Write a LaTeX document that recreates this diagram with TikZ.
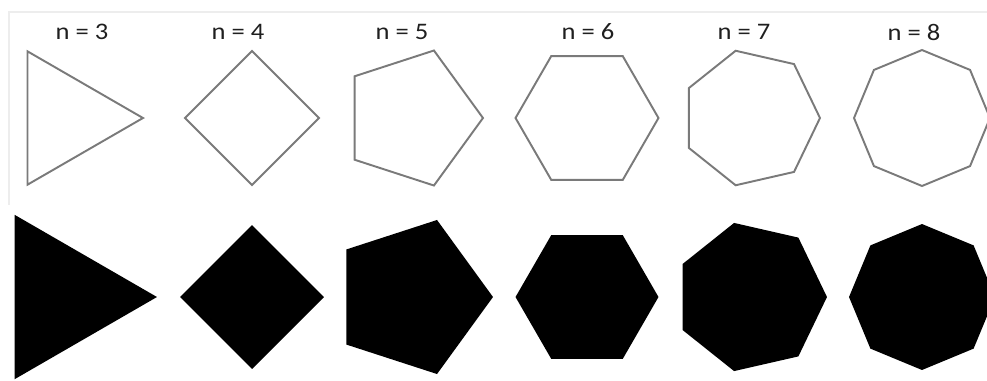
\documentclass[tikz,border=0pt]{standalone}
\usepackage{fontspec}
\setmainfont{Carlito}
\usetikzlibrary{shapes.geometric}

\begin{document}
\begin{tikzpicture}[
        x = 0.02cm, y = -0.02cm,
        poly/.style = {regular polygon, inner sep = 0pt, outer sep = 0pt},
        outline/.style = {poly, draw = black!52, line width = 1.1pt, fill = white},
        solid/.style = {poly, fill = black},
        lbl/.style = {font = \fontsize{13.5}{15}\selectfont, text = black!88, inner sep = 0pt}
    ]
      \useasboundingbox (0,0) rectangle (987,380);
      \clip (0,0) rectangle (987,380);
      \draw[black!7, line width = 0.8pt] (9,205) -- (9,12) -- (987,12);

      % labels
      \node[lbl] (l3) at (82,32) {\scalebox{1.12}[1]{n = 3}};
      \node[lbl] (l4) at (238,32) {\scalebox{1.12}[1]{n = 4}};
      \node[lbl] (l5) at (402,32) {\scalebox{1.12}[1]{n = 5}};
      \node[lbl] (l6) at (588,32) {\scalebox{1.12}[1]{n = 6}};
      \node[lbl] (l7) at (744,32) {\scalebox{1.12}[1]{n = 7}};
      \node[lbl] (l8) at (914,32) {\scalebox{1.12}[1]{n = 8}};

      % outlined row
      \node[outline, regular polygon sides = 3, shape border rotate = -90, minimum size = 3.08cm] (o3) at (66,118) {};
      \node[outline, regular polygon sides = 4, shape border rotate = 45, minimum size = 2.68cm] (o4) at (252,118) {};
      \node[outline, regular polygon sides = 5, shape border rotate = -90, minimum size = 2.84cm] (o5) at (412,118) {};
      \node[outline, regular polygon sides = 6, minimum size = 2.86cm] (o6) at (587,118) {};
      \node[outline, regular polygon sides = 7, shape border rotate = -90, minimum size = 2.76cm] (o7) at (751,118) {};
      \node[outline, regular polygon sides = 8, shape border rotate = 22.5, minimum size = 2.72cm] (o8) at (922,118) {};

      % filled row
      \node[solid, regular polygon sides = 3, shape border rotate = -90, minimum size = 3.8cm] (f3) at (62,297) {};
      \node[solid, regular polygon sides = 4, shape border rotate = 45, minimum size = 2.88cm] (f4) at (252,297) {};
      \node[solid, regular polygon sides = 5, shape border rotate = -90, minimum size = 3.24cm] (f5) at (412,297) {};
      \node[solid, regular polygon sides = 6, minimum size = 2.86cm] (f6) at (587,297) {};
      \node[solid, regular polygon sides = 7, shape border rotate = -90, minimum size = 3.04cm] (f7) at (751,297) {};
      \node[solid, regular polygon sides = 8, shape border rotate = 22.5, minimum size = 2.92cm] (f8) at (922,297) {};
    \end{tikzpicture}
\end{document}
